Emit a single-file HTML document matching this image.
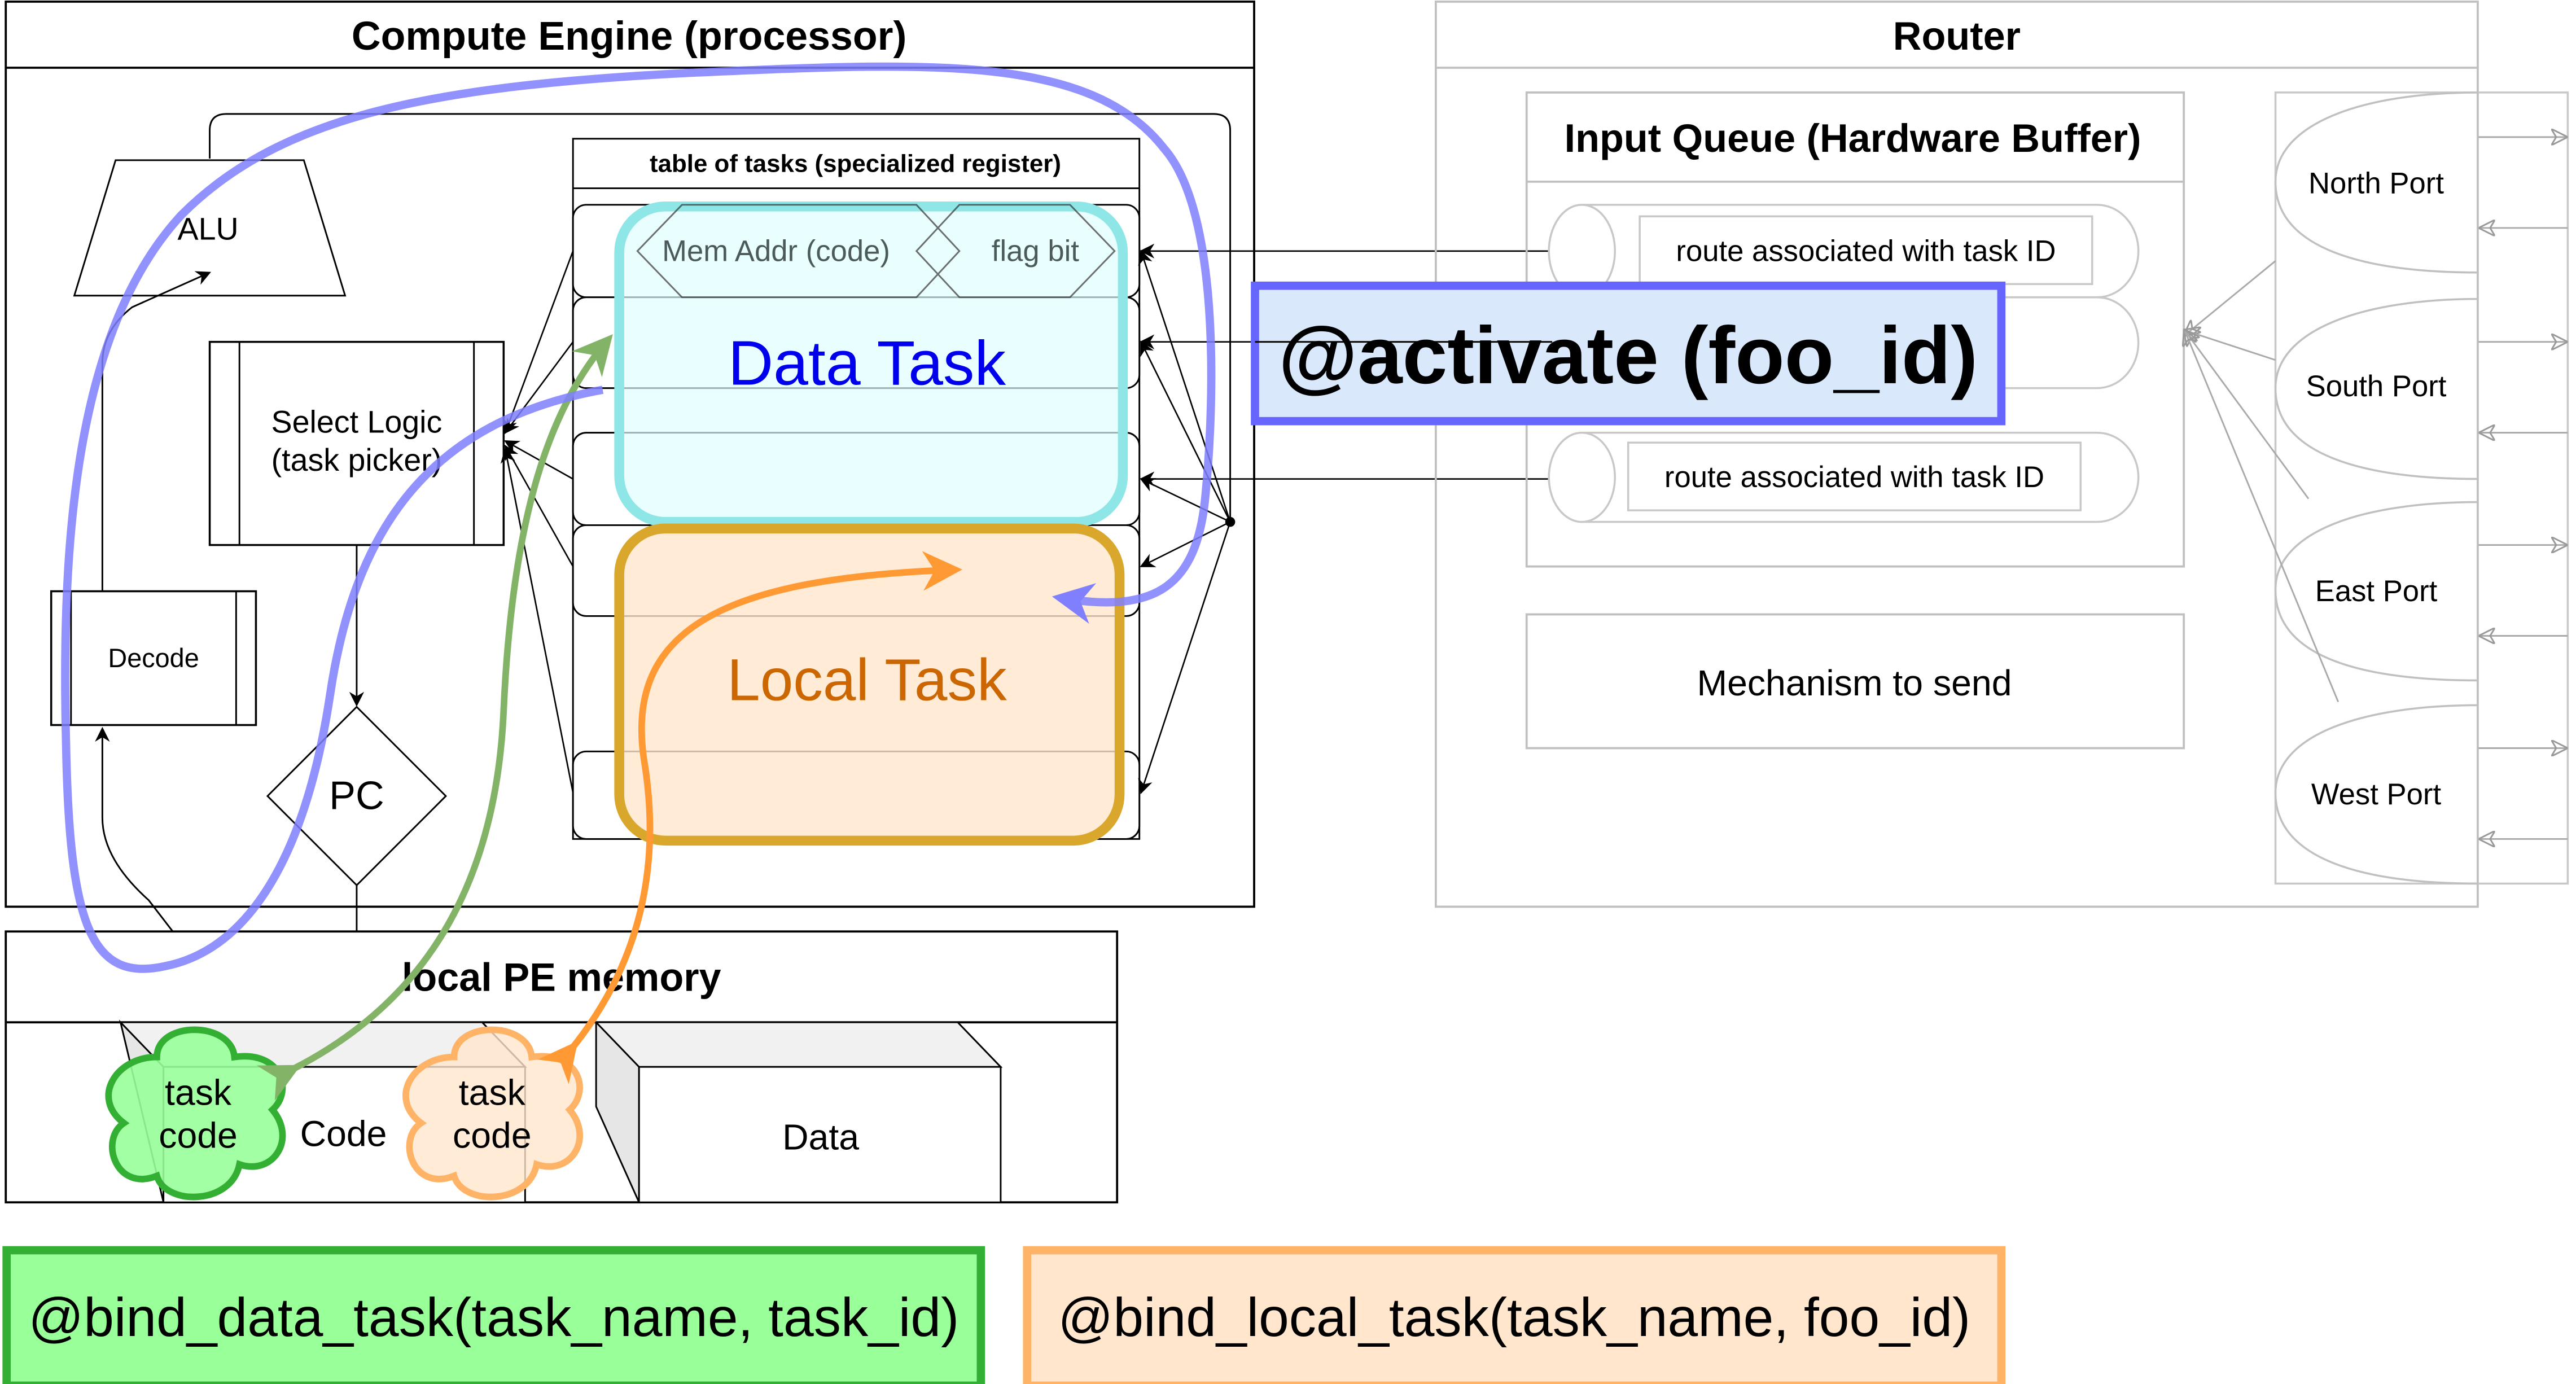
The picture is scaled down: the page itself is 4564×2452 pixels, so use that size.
<!DOCTYPE html>
<html><head><meta charset="utf-8"><style>html,body{margin:0;padding:0;background:#fff}svg{display:block}</style></head><body>
<svg width="4564" height="2452" viewBox="0 0 1560 838" preserveAspectRatio="none" xmlns="http://www.w3.org/2000/svg" font-family="Liberation Sans, Arial, sans-serif">
<defs>
<marker id="ab" viewBox="0 0 10 10" refX="9" refY="5" markerWidth="9" markerHeight="9" markerUnits="userSpaceOnUse" orient="auto"><path d="M0,0 L10,5 L0,10 L3,5 z" fill="#000"/></marker>
<marker id="ag" viewBox="0 0 10 10" refX="9" refY="5" markerWidth="10" markerHeight="10" markerUnits="userSpaceOnUse" orient="auto"><path d="M0,0 L10,5 L0,10 L3,5 z" fill="none" stroke="#999"/></marker>
<marker id="agr" viewBox="0 0 10 10" refX="8" refY="5" markerWidth="6" markerHeight="6" orient="auto"><path d="M0,0 L10,5 L0,10 L3,5 z" fill="#82b366"/></marker>
<marker id="aor" viewBox="0 0 10 10" refX="8" refY="5" markerWidth="6" markerHeight="6" orient="auto"><path d="M0,0 L10,5 L0,10 L3,5 z" fill="#ff9933"/></marker>
<marker id="abl" viewBox="0 0 10 10" refX="8" refY="5" markerWidth="5" markerHeight="5" orient="auto"><path d="M0,0 L10,5 L0,10 L3,5 z" fill="#8080ff"/></marker>
</defs>

<rect x="3.5" y="1" width="756" height="548" fill="#fff" stroke="#000" stroke-width="1.3"/>
<line x1="3.5" y1="41" x2="759.5" y2="41" stroke="#000" stroke-width="1.3"/>
<text x="381" y="30" font-size="24.5" font-weight="bold" text-anchor="middle">Compute Engine (processor)</text>

<path d="M127,96 L127,79 Q127,69 137,69 L735,69 Q745,69 745,79 L745,316" fill="none" stroke="#000" stroke-width="1"/>
<polygon points="45,179 209,179 184,97 70,97" fill="#fff" stroke="#000" stroke-width="1"/>
<text x="126" y="145" font-size="19" text-anchor="middle">ALU</text>

<rect x="127" y="207" width="178" height="123" fill="#fff" stroke="#000" stroke-width="1.2"/>
<line x1="145" y1="207" x2="145" y2="330" stroke="#000"/><line x1="287" y1="207" x2="287" y2="330" stroke="#000"/>
<text x="216" y="262" font-size="19" text-anchor="middle">Select Logic</text>
<text x="216" y="285" font-size="19" text-anchor="middle">(task picker)</text>

<rect x="31" y="358" width="124" height="81" fill="#fff" stroke="#000" stroke-width="1.2"/>
<line x1="43" y1="358" x2="43" y2="439" stroke="#000"/><line x1="143" y1="358" x2="143" y2="439" stroke="#000"/>
<text x="93" y="404" font-size="16" text-anchor="middle">Decode</text>

<polygon points="216,428 270,482 216,536 162,482" fill="#fff" stroke="#000" stroke-width="1"/>
<text x="216" y="490" font-size="24" text-anchor="middle">PC</text>

<path d="M62,358 L62,220 Q62,200 80,186 L127,165" fill="none" stroke="#000" marker-end="url(#ab)"/>
<line x1="216" y1="330" x2="216" y2="427" stroke="#000" marker-end="url(#ab)"/>
<line x1="216" y1="536" x2="216" y2="628" stroke="#000" marker-end="url(#ab)"/>
<path d="M147,619 L90,545 Q62,520 62,495 L62,441" fill="none" stroke="#000" marker-end="url(#ab)"/>

<rect x="347" y="84" width="343" height="424" fill="#fff" stroke="#000" stroke-width="1"/>
<line x1="347" y1="114" x2="690" y2="114" stroke="#000"/>
<text x="518" y="104" font-size="15" font-weight="bold" text-anchor="middle">table of tasks (specialized register)</text>
<g fill="#fff" stroke="#000" stroke-width="1">
<rect x="347" y="124" width="343" height="56" rx="8"/>
<rect x="347" y="180" width="343" height="55" rx="8"/>
<rect x="347" y="262" width="343" height="56" rx="8"/>
<rect x="347" y="318" width="343" height="55" rx="8"/>
<rect x="347" y="455" width="343" height="53" rx="8"/>
</g>
<g stroke="#000" stroke-width="0.9" fill="none">
<line x1="347" y1="152" x2="306" y2="262" marker-end="url(#ab)"/>
<line x1="347" y1="207" x2="306" y2="262" marker-end="url(#ab)"/>
<line x1="347" y1="290" x2="306" y2="267" marker-end="url(#ab)"/>
<line x1="347" y1="343" x2="306" y2="270" marker-end="url(#ab)"/>
<line x1="347" y1="480" x2="306" y2="272" marker-end="url(#ab)"/>
<line x1="745" y1="316" x2="691" y2="152" marker-end="url(#ab)"/>
<line x1="745" y1="316" x2="691" y2="207" marker-end="url(#ab)"/>
<line x1="745" y1="316" x2="691" y2="290" marker-end="url(#ab)"/>
<line x1="745" y1="316" x2="691" y2="343" marker-end="url(#ab)"/>
<line x1="745" y1="316" x2="691" y2="480" marker-end="url(#ab)"/>
<line x1="940" y1="152" x2="691" y2="152" marker-end="url(#ab)"/>
<line x1="760" y1="207" x2="691" y2="207" marker-end="url(#ab)"/>
<line x1="940" y1="290" x2="691" y2="290" marker-end="url(#ab)"/>
</g>
<circle cx="745" cy="316" r="3" fill="#000"/>

<rect x="375" y="125" width="305" height="191" rx="28" fill="#e0ffff" fill-opacity="0.7" stroke="#8ee6e6" stroke-width="6"/>
<g stroke="#333" stroke-width="1" fill="none" opacity="0.7">
<polygon points="413,124 555,124 581,152 555,180 413,180 386,152"/>
<polygon points="581,124 648,124 675,152 648,180 581,180 555,152"/>
</g>
<text x="470" y="158" font-size="18" fill="#4d5a5a" text-anchor="middle">Mem Addr (code)</text>
<text x="627" y="158" font-size="18" fill="#4d5a5a" text-anchor="middle">flag bit</text>
<text x="525" y="233" font-size="38" fill="#0000ee" text-anchor="middle">Data Task</text>

<rect x="375" y="320" width="303" height="189" rx="28" fill="#ffe6cc" fill-opacity="0.8" stroke="#d9a72c" stroke-width="6"/>
<text x="525" y="424" font-size="36" fill="#cc6600" text-anchor="middle">Local Task</text>

<rect x="869.5" y="1" width="631" height="548" fill="none" stroke="#c0c0c0" stroke-width="1.3"/>
<line x1="869.5" y1="41" x2="1500.5" y2="41" stroke="#c0c0c0" stroke-width="1.3"/>
<text x="1185" y="30" font-size="24" font-weight="bold" text-anchor="middle">Router</text>
<rect x="924.5" y="56" width="398" height="287" fill="none" stroke="#c0c0c0" stroke-width="1.3"/>
<line x1="924.5" y1="110" x2="1322.5" y2="110" stroke="#c0c0c0" stroke-width="1.3"/>
<text x="1122" y="92" font-size="24" font-weight="bold" text-anchor="middle">Input Queue (Hardware Buffer)</text>
<g fill="#fff" stroke="#c8c8c8" stroke-width="1.2">
<path d="M958,180 L1270,180 A25,27.5 0 0 1 1270,235 L958,235 A20,27.5 0 0 1 958,180 Z"/>
<ellipse cx="958" cy="207" rx="20" ry="27"/>
<path d="M958,124 L1270,124 A25,28 0 0 1 1270,180 L958,180 A20,28 0 0 1 958,124 Z"/>
<ellipse cx="958" cy="152" rx="20" ry="28"/>
<path d="M958,262 L1270,262 A25,27 0 0 1 1270,316 L958,316 A20,27 0 0 1 958,262 Z"/>
<ellipse cx="958" cy="289" rx="20" ry="27"/>
<rect x="993" y="131" width="274" height="41"/>
<rect x="986" y="268" width="274" height="41"/>
</g>
<text x="1130" y="158" font-size="18" text-anchor="middle">route associated with task ID</text>
<text x="1123" y="295" font-size="18" text-anchor="middle">route associated with task ID</text>
<rect x="924.5" y="372" width="398" height="81" fill="none" stroke="#c0c0c0" stroke-width="1.3"/>
<text x="1123" y="421" font-size="22" text-anchor="middle">Mechanism to send</text>

<rect x="1378" y="56" width="177" height="479" fill="none" stroke="#c8c8c8" stroke-width="1.2"/>
<g fill="none" stroke="#c0c0c0" stroke-width="1.2">
<path d="M1501,56 C1430,56 1378,75 1378,110 C1378,150 1430,165 1501,165"/>
<path d="M1501,181 C1430,181 1378,200 1378,235 C1378,275 1430,290 1501,290"/>
<path d="M1501,304 C1430,304 1378,322 1378,357 C1378,398 1430,412 1501,412"/>
<path d="M1501,427 C1430,427 1378,445 1378,480 C1378,520 1430,535 1501,535"/>
</g>
<g stroke="#aaa" stroke-width="1" fill="none">
<line x1="1501" y1="83" x2="1554" y2="83" marker-end="url(#ag)"/>
<line x1="1555" y1="138" x2="1502" y2="138" marker-end="url(#ag)"/>
<line x1="1501" y1="207" x2="1554" y2="207" marker-end="url(#ag)"/>
<line x1="1555" y1="262" x2="1502" y2="262" marker-end="url(#ag)"/>
<line x1="1501" y1="330" x2="1554" y2="330" marker-end="url(#ag)"/>
<line x1="1555" y1="385" x2="1502" y2="385" marker-end="url(#ag)"/>
<line x1="1501" y1="453" x2="1554" y2="453" marker-end="url(#ag)"/>
<line x1="1555" y1="508" x2="1502" y2="508" marker-end="url(#ag)"/>
<line x1="1378" y1="158" x2="1323" y2="203" marker-end="url(#ag)"/>
<line x1="1378" y1="218" x2="1323" y2="200" marker-end="url(#ag)"/>
<line x1="1398" y1="302" x2="1323" y2="200" marker-end="url(#ag)"/>
<line x1="1416" y1="425" x2="1323" y2="200" marker-end="url(#ag)"/>
</g>
<text x="1439" y="117" font-size="18" text-anchor="middle">North Port</text>
<text x="1439" y="240" font-size="18" text-anchor="middle">South Port</text>
<text x="1439" y="364" font-size="18" text-anchor="middle">East Port</text>
<text x="1439" y="487" font-size="18" text-anchor="middle">West Port</text>

<rect x="760" y="173" width="452" height="82" fill="#dae8fc" stroke="#6666ff" stroke-width="5"/>
<line x1="760" y1="207" x2="940" y2="207" stroke="#000" stroke-width="1"/>
<text x="986" y="232" font-size="49" font-weight="bold" text-anchor="middle">@activate (foo_id)</text>

<rect x="3.5" y="564" width="673" height="164" fill="#fff" stroke="#000" stroke-width="1.3"/>
<line x1="3.5" y1="619" x2="676.5" y2="619" stroke="#000" stroke-width="1.3"/>
<g stroke="#000" stroke-width="1">
<polygon points="73,619 292,619 318,646 99,646" fill="#f1f1f1"/>
<polygon points="73,619 99,646 99,728" fill="#e6e6e6"/>
<rect x="99" y="646" width="219" height="82" fill="#fff"/>
<polygon points="361,619 580,619 606,646 387,646" fill="#f1f1f1"/>
<polygon points="361,619 387,646 387,728 361,670" fill="#e6e6e6"/>
<rect x="387" y="646" width="219" height="82" fill="#fff"/>
</g>
<text x="340" y="600" font-size="24" font-weight="bold" text-anchor="middle">local PE memory</text>
<text x="208" y="694" font-size="22" text-anchor="middle">Code</text>
<text x="497" y="696" font-size="22" text-anchor="middle">Data</text>

<g stroke-width="4">
<path d="M95,640 C95,618 140,618 142,640 C170,636 178,660 165,672 C180,690 165,712 145,705 C140,730 100,730 95,712 C70,722 60,690 75,680 C55,665 70,640 95,640 Z" fill="#99ff99" fill-opacity="0.9" stroke="#33b033"/>
<path d="M275,640 C275,618 320,618 322,640 C350,636 358,660 345,672 C360,690 345,712 325,705 C320,730 280,730 275,712 C250,722 240,690 255,680 C235,665 250,640 275,640 Z" fill="#ffe6cc" fill-opacity="0.8" stroke="#ffb366"/>
</g>
<text x="120" y="669" font-size="22" text-anchor="middle">task</text>
<text x="120" y="695" font-size="22" text-anchor="middle">code</text>
<text x="298" y="669" font-size="22" text-anchor="middle">task</text>
<text x="298" y="695" font-size="22" text-anchor="middle">code</text>

<path d="M178,647 C250,610 300,545 305,430 C310,320 330,250 368,206" fill="none" stroke="#82b366" stroke-width="4" marker-start="url(#agr)" marker-end="url(#agr)"/>
<path d="M347,634 C390,580 400,520 390,460 C378,380 440,350 578,345" fill="none" stroke="#ff9933" stroke-width="4" marker-start="url(#aor)" marker-end="url(#aor)"/>
<path d="M365,236 C260,255 215,320 200,420 C185,520 150,575 100,585 C55,595 42,560 40,450 C37,330 45,200 110,130 C170,70 260,52 420,44 C560,38 660,32 705,90 C740,130 735,250 730,300 C725,355 700,372 642,362" fill="none" stroke="#7f7fff" stroke-opacity="0.85" stroke-width="5" marker-end="url(#abl)"/>

<rect x="4" y="757" width="590" height="82" fill="#99ff99" stroke="#33b033" stroke-width="5"/>
<text x="299" y="809" font-size="33" text-anchor="middle">@bind_data_task(task_name, task_id)</text>
<rect x="622" y="757" width="590" height="82" fill="#ffe6cc" stroke="#ffb366" stroke-width="5"/>
<text x="917" y="809" font-size="33" text-anchor="middle">@bind_local_task(task_name, foo_id)</text>
</svg>
</body></html>
